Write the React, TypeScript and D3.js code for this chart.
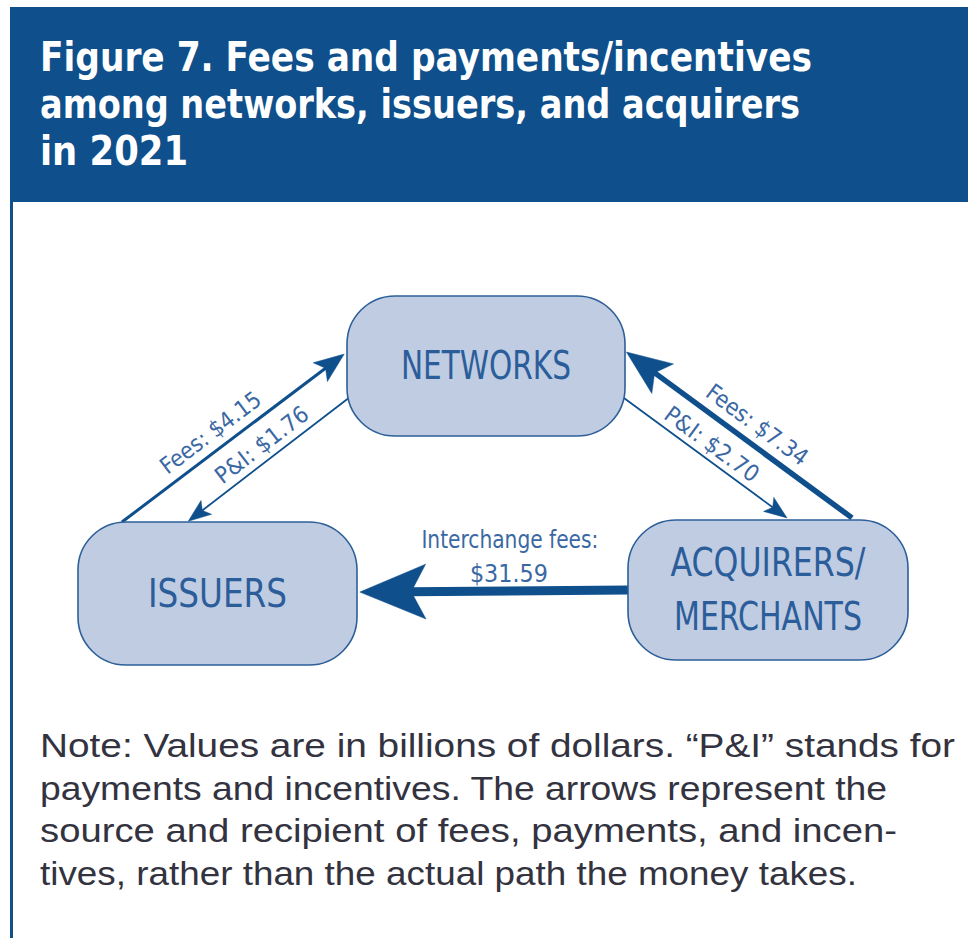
import React from "react";
import * as d3 from "d3";

// ---------- data ----------
const titleLines = [
  "Figure 7. Fees and payments/incentives",
  "among networks, issuers, and acquirers",
  "in 2021",
];
const noteLines = [
  "Note: Values are in billions of dollars. \u201CP&I\u201D stands for",
  "payments and incentives. The arrows represent the",
  "source and recipient of fees, payments, and incen-",
  "tives, rather than the actual path the money takes.",
];
const nodeNames = ["NETWORKS", "ISSUERS", "ACQUIRERS/MERCHANTS"];
const nodeLabelLines = [["NETWORKS"], ["ISSUERS"], ["ACQUIRERS/", "MERCHANTS"]];
const flowKinds = ["Fees", "P&I", "Fees", "P&I", "Interchange fees"];
const flowValues = [4.15, 1.76, 7.34, 2.7, 31.59];
const flowSources = ["ISSUERS", "NETWORKS", "ACQUIRERS/MERCHANTS", "NETWORKS", "ACQUIRERS/MERCHANTS"];
const flowTargets = ["NETWORKS", "ISSUERS", "NETWORKS", "ACQUIRERS/MERCHANTS", "ISSUERS"];

// ---------- layout ----------
const W = 968;
const H = 938;
const BLUE = "#0e4f8c";
const NODE_FILL = "#bfcce1";
const NODE_STROKE = "#2d5f99";
const NODE_TEXT = "#2b5d9b";
const LABEL_TEXT = "#3a68a3";
const NOTE_TEXT = "#33333f";
const CONDENSED = "'Liberation Sans Narrow', 'DejaVu Sans Condensed', 'Liberation Sans', Arial, sans-serif";

const NODE_LAYOUT: Record<string, { cx: number; cy: number; w: number; h: number; r: number }> = {
  NETWORKS: { cx: 486, cy: 366, w: 278, h: 140, r: 48 },
  ISSUERS: { cx: 217.5, cy: 593.5, w: 279, h: 143, r: 48 },
  "ACQUIRERS/MERCHANTS": { cx: 768, cy: 590, w: 280, h: 140, r: 48 },
};
const NODE_LABEL_WIDTHS = [[170], [139], [195, 188]];

// anchor points relative to node centre (fractions of half-width / half-height)
const FLOW_ANCHORS = [
  { s: [-0.685, -1.0], t: [-1.02, -0.17], lt: 0.447, off: 10, len: 120 },
  { s: [-0.99, 0.46], t: [-0.21, -1.01], lt: 0.52, off: 8, len: 111 },
  { s: [0.6, -1.03], t: [1.01, -0.2], lt: 0.53, off: 11, len: 120 },
  { s: [0.98, 0.44], t: [0.136, -1.03], lt: 0.49, off: 7, len: 111 },
  { s: [-1.0, 0.0], t: [1.02, -0.02], lt: 0.5, off: 9, len: 177 },
];

const widthScale = d3.scaleThreshold<number, number>().domain([3, 5, 10]).range([1.8, 3, 5.5, 9]);
const fmt = d3.format("$.2f");

function anchor(name: string, rel: number[]) {
  const n = NODE_LAYOUT[name];
  return [n.cx + (rel[0] * n.w) / 2, n.cy + (rel[1] * n.h) / 2];
}

export default function App() {
  const flows = flowValues.map((v, i) => {
    const a = FLOW_ANCHORS[i];
    const p0 = anchor(flowSources[i], a.s);
    const p1 = anchor(flowTargets[i], a.t);
    const sw = widthScale(v);
    const dx = p1[0] - p0[0];
    const dy = p1[1] - p0[1];
    const L = Math.hypot(dx, dy);
    const ux = dx / L;
    const uy = dy / L;
    const nx = -uy;
    const ny = ux;
    const headLen = 12 + 6 * sw;
    const headHW = 4 + 2.6 * sw;
    const backX = p1[0] - ux * headLen;
    const backY = p1[1] - uy * headLen;
    const notchX = p1[0] - ux * headLen * 0.78;
    const notchY = p1[1] - uy * headLen * 0.78;
    const shaft = d3.line()([p0 as [number, number], [notchX + ux * 2, notchY + uy * 2]]) as string;
    const head = d3.line().curve(d3.curveLinearClosed)([
      [p1[0], p1[1]],
      [backX + nx * headHW, backY + ny * headHW],
      [notchX, notchY],
      [backX - nx * headHW, backY - ny * headHW],
    ]) as string;
    // reading direction: left to right
    const r0 = p0[0] <= p1[0] ? p0 : p1;
    const r1 = p0[0] <= p1[0] ? p1 : p0;
    const angle = (Math.atan2(r1[1] - r0[1], r1[0] - r0[0]) * 180) / Math.PI;
    const mx = r0[0] + (r1[0] - r0[0]) * a.lt;
    const my = r0[1] + (r1[1] - r0[1]) * a.lt;
    return { i, v, p0, p1, sw, shaft, head, angle, mx, my, a };
  });

  return (
    <svg
      width={W}
      height={H}
      viewBox={`0 0 ${W} ${H}`}
      style={{ position: "absolute", left: 0, top: 0, background: "#ffffff" }}
    >
      <rect x={0} y={0} width={W} height={H} fill="#ffffff" />
      {/* header */}
      <rect x={10} y={7} width={W - 10} height={195} fill={BLUE} />
      <line x1={11.5} x2={11.5} y1={7} y2={H} stroke={BLUE} strokeWidth={3} />
      {titleLines.map((t, i) => (
        <text
          key={t}
          x={40}
          y={71 + i * 47}
          fill="#ffffff"
          fontFamily={CONDENSED}
          fontWeight="bold"
          fontSize={40}
          textLength={[772, 760, 148][i]}
          lengthAdjust="spacingAndGlyphs"
        >
          {t}
        </text>
      ))}

      {/* flows */}
      {flows.map((f) => (
        <g key={"f" + f.i}>
          <path d={f.shaft} stroke={BLUE} strokeWidth={f.sw} fill="none" />
          <path d={f.head} fill={BLUE} stroke={BLUE} strokeWidth={0.5} strokeLinejoin="miter" />
        </g>
      ))}

      {/* nodes */}
      {nodeNames.map((name, i) => {
        const n = NODE_LAYOUT[name];
        const lines = nodeLabelLines[i];
        return (
          <g key={name}>
            <rect
              x={n.cx - n.w / 2}
              y={n.cy - n.h / 2}
              width={n.w}
              height={n.h}
              rx={n.r}
              ry={n.r}
              fill={NODE_FILL}
              stroke={NODE_STROKE}
              strokeWidth={1.6}
            />
            {lines.map((ln, j) => (
              <text
                key={ln}
                x={n.cx}
                y={n.cy + 13 + (j - (lines.length - 1) / 2) * 54}
                textAnchor="middle"
                fill={NODE_TEXT}
                fontFamily={CONDENSED}
                fontSize={39}
                textLength={NODE_LABEL_WIDTHS[i][j]}
                lengthAdjust="spacingAndGlyphs"
              >
                {ln}
              </text>
            ))}
          </g>
        );
      })}

      {/* flow labels */}
      {flows.map((f) => {
        const kind = flowKinds[f.i];
        if (Math.abs(f.angle) < 5) {
          return (
            <g key={"l" + f.i} fill={LABEL_TEXT} fontFamily={CONDENSED} fontSize={24} textAnchor="middle">
              <text x={f.mx + 16} y={f.my - 43} textLength={f.a.len} lengthAdjust="spacingAndGlyphs">
                {kind + ":"}
              </text>
              <text x={f.mx + 15} y={f.my - f.a.off} textLength={78} lengthAdjust="spacingAndGlyphs">
                {fmt(f.v)}
              </text>
            </g>
          );
        }
        return (
          <text
            key={"l" + f.i}
            transform={`translate(${f.mx},${f.my}) rotate(${f.angle})`}
            x={0}
            y={-f.a.off}
            textAnchor="middle"
            fill={LABEL_TEXT}
            fontFamily={CONDENSED}
            fontSize={23}
            textLength={f.a.len}
            lengthAdjust="spacingAndGlyphs"
          >
            {`${kind}: ${fmt(f.v)}`}
          </text>
        );
      })}

      {/* note */}
      {noteLines.map((t, i) => (
        <text
          key={t}
          x={40}
          y={757 + i * 42.7}
          fill={NOTE_TEXT}
          fontFamily="'Liberation Sans Narrow', 'Liberation Sans', Arial, sans-serif"
          fontSize={34}
          textLength={[915, 847, 857, 817][i]}
          lengthAdjust="spacingAndGlyphs"
        >
          {t}
        </text>
      ))}
    </svg>
  );
}
